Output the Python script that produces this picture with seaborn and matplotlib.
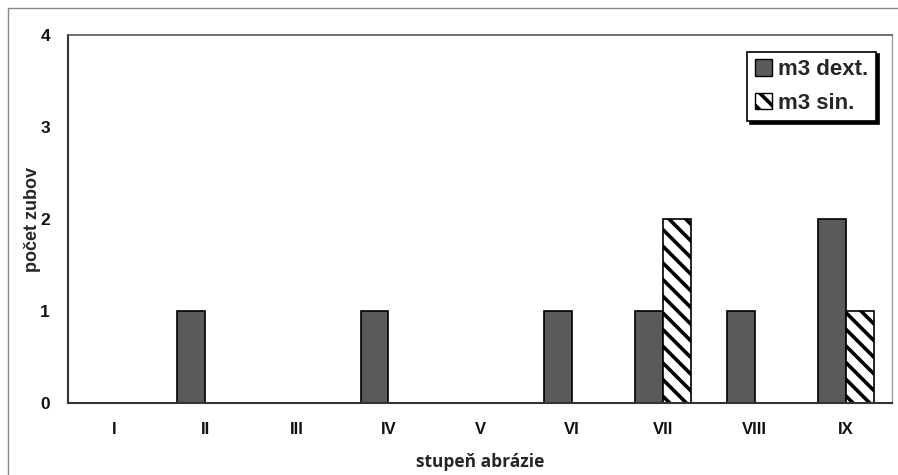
import pandas as pd
import numpy as np
import matplotlib
matplotlib.use('Agg')
import matplotlib.pyplot as plt
from matplotlib.patches import Patch, Rectangle
import seaborn as sns

# --- Data ---
STAGES = ['I', 'II', 'III', 'IV', 'V', 'VI', 'VII', 'VIII', 'IX']
DEXT = [0, 1, 0, 1, 0, 1, 1, 1, 2]
SIN = [0, 0, 0, 0, 0, 0, 2, 0, 1]
SERIES = ['m3 dext.', 'm3 sin.']

df = pd.DataFrame({
    'stage': STAGES * 2,
    'count': DEXT + SIN,
    'series': [SERIES[0]] * len(STAGES) + [SERIES[1]] * len(STAGES),
})

sns.set_style('white')
plt.rcParams['font.family'] = ['Liberation Sans', 'DejaVu Sans']
plt.rcParams['hatch.linewidth'] = 2.6

fig = plt.figure(figsize=(8.98, 4.75), dpi=100)
ax = fig.add_axes([68 / 898, 1 - 403 / 475, (892 - 68) / 898, (403 - 35) / 475])

sns.barplot(data=df, x='stage', y='count', hue='series', order=STAGES,
            hue_order=SERIES, palette=['#5a5a5a', 'white'], width=0.61,
            edgecolor='black', linewidth=1.2, legend=False, ax=ax)

# hatch the "sin." bars
for bar in ax.containers[1]:
    bar.set_hatch('\\\\')

ax.set_xlim(-0.5, len(STAGES) - 0.5)
ax.set_ylim(0, 4)
ax.set_yticks([0, 1, 2, 3, 4])
ax.set_xticks(np.arange(len(STAGES)))
ax.set_xticklabels(STAGES, fontweight='bold', fontsize=12)
ax.set_xticks(np.arange(len(STAGES) + 1) - 0.5, minor=True)
ax.tick_params(axis='x', which='major', length=0, pad=14)
ax.tick_params(axis='x', which='minor', length=4, width=1, color='#444444', direction='out')
ax.tick_params(axis='y', length=4, width=1, color='#444444', direction='out', pad=9)
for lab in ax.get_yticklabels():
    lab.set_fontweight('bold')
    lab.set_fontsize(12.5)
ax.tick_params(axis='both', labelcolor='#111111')

ax.set_xlabel('stupeň abrázie', fontweight='bold', fontsize=12.5,
              family=['Open Sans', 'DejaVu Sans'], labelpad=11)
ax.set_ylabel('počet zubov', fontweight='bold', fontsize=13,
              family=['Liberation Sans', 'DejaVu Sans'])
ax.yaxis.set_label_coords(-0.033, 0.5)

for side in ['left', 'bottom']:
    ax.spines[side].set_color('#333333')
    ax.spines[side].set_linewidth(1.5)
ax.spines['top'].set_color('#555555')
ax.spines['top'].set_linewidth(1.2)
ax.spines['right'].set_color('#999999')
ax.spines['right'].set_linewidth(1.0)

handles = [Patch(facecolor='#5a5a5a', edgecolor='black', label=SERIES[0]),
           Patch(facecolor='white', edgecolor='black', hatch='\\\\', label=SERIES[1])]
leg = ax.legend(handles=handles, loc='upper right', bbox_to_anchor=(0.981, 0.955),
                prop={'weight': 'bold', 'size': 16}, frameon=True, shadow={'color': 'black', 'alpha': 1},
                fancybox=False, handlelength=0.75, handleheight=0.75, handletextpad=0.3,
                borderpad=0.35, labelspacing=0.55, edgecolor='black', borderaxespad=0)
leg.get_frame().set_linewidth(1.2)

# outer frame of the figure
fig.patches.append(Rectangle((8 / 898, -0.05), 1.0, 1 - 8 / 475 + 0.05,
                             transform=fig.transFigure, fill=False,
                             edgecolor='#888888', linewidth=1.0))

fig.savefig('out.png', dpi=100)
